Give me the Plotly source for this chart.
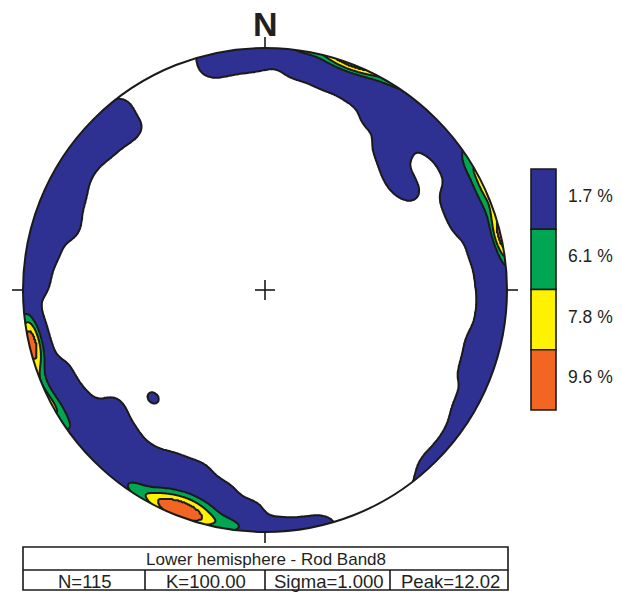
import numpy as np
import plotly.graph_objects as go

# ---------------- data (lineation orientations read from the net) ----------------
TREND = [0, 8, 8, 16, 16, 24, 24, 32, 32, 32,
         40, 40, 48, 48, 56, 56, 64, 64, 72, 71,
         44, 40, 46, 51, 55,
         80, 88, 88, 96, 96, 104, 104, 112, 112,
         120, 120, 128, 136, 168, 176, 184, 184,
         192, 192, 200, 200, 200, 208, 208, 208,
         216, 216, 216, 224, 224, 224, 232, 232, 232, 232,
         240, 240, 248,
         272, 272, 280, 280, 288, 288, 288, 296, 296, 296,
         304, 304, 312, 312, 312, 320, 320, 320, 348, 348, 356, 356,
         226,
         188, 190, 194, 198, 202, 206, 210, 214, 196, 203,
         20,
         252, 255, 258, 261, 264, 254, 260,
         77, 60, 64, 68,
         236, 243]
PLUNGE = [3, 3, 10, 3, 12, 3, 13, 3, 11, 19,
          3, 11, 3, 11, 3, 10, 10, 17, 10, 17,
          20, 25, 28, 30, 28,
          13, 3, 11, 3, 10, 3, 13, 3, 12,
          3, 6.5, 3, 3, 2, 3, 3, 11,
          10, 17, 9, 15, 22, 9, 15, 21,
          3, 10, 18, 3, 11, 20, 3, 10, 16, 23,
          3, 13, 12,
          3, 9, 3, 12, 3, 10, 18, 3, 9, 15,
          3, 12, 3, 8, 14, 3, 9, 16, 3, 8, 3, 7,
          36,
          2.5, 2.5, 2.5, 2.5, 2.5, 2.5, 2.5, 2.5, 8, 8,
          1,
          1, 1, 1, 1, 1, 5, 5,
          1, 2, 1.5, 1.5,
          2, 2]
COUNT = ([1] * 86
         + [1, 1, 1, 2, 2, 2, 1, 1, 1, 1]
         + [1]
         + [1, 1, 1, 1, 1, 1, 1]
         + [2, 1, 1, 2]
         + [1, 1])
assert len(TREND) == len(PLUNGE) == len(COUNT)

LEVELS = [1.7, 6.1, 7.8, 9.6]
LEVEL_COLORS = ["#2E3192", "#00A651", "#FFF200", "#F26522"]
TITLE = "Lower hemisphere - Rod Band8"
STATS = ["N=115", "K=100.00", "Sigma=1.000", "Peak=12.02"]
KAPPA = 220.0

# ---------------- geometry helpers ----------------
W, H = 622, 592
CX, CY, RAD = 265.0, 290.0, 242.0
TXT = "#231F20"


def dx(px):
    return (px - CX) / RAD


def dy(py):
    return (CY - py) / RAD


# ---------------- density on an equal-area (Schmidt) lower-hemisphere grid ----------------
t = np.radians(TREND)
p = np.radians(PLUNGE)
w = np.asarray(COUNT, float)
ux, uy, uz = np.cos(p) * np.sin(t), np.cos(p) * np.cos(t), np.sin(p)

n = 481
g = np.linspace(-1.08, 1.08, n)
X, Y = np.meshgrid(g, g)
Rr = np.hypot(X, Y)
th = 2 * np.arcsin(np.clip(Rr / np.sqrt(2), 0, 1))
az = np.arctan2(X, Y)
vx, vy, vz = np.sin(th) * np.sin(az), np.sin(th) * np.cos(az), np.cos(th)
D = np.zeros_like(X)
for i in range(len(w)):
    c = np.abs(vx * ux[i] + vy * uy[i] + vz * uz[i])
    D += w[i] * np.exp(KAPPA * (c - 1))
D *= KAPPA / w.sum()          # percent per 1 % area

Z = np.interp(D, [0] + LEVELS + [1000], list(range(len(LEVELS) + 2)))

fig = go.Figure()
fig.add_trace(go.Contour(
    x=g, y=g, z=Z, zmin=0, zmax=5, autocontour=False,
    contours=dict(start=1, end=len(LEVELS), size=1, coloring="fill", showlines=True),
    line=dict(color="#1a1a1a", width=2, smoothing=0.8),
    colorscale=[[0, "white"], [0.25, LEVEL_COLORS[0]], [0.5, LEVEL_COLORS[1]],
                [0.75, LEVEL_COLORS[2]], [1, LEVEL_COLORS[3]]],
    showscale=False, hoverinfo="skip"))

shapes = []
# white mask outside the primitive circle
ang = np.linspace(0, 2 * np.pi, 721)
circ = " ".join(f"L{np.cos(a):.5f},{np.sin(a):.5f}" for a in ang[1:])
shapes.append(dict(type="path", path=f"M-3,-3 L3,-3 L3,3 L-3,3 Z M1,0 {circ} Z",
                   fillcolor="white", fillrule="evenodd", line=dict(width=0),
                   xref="x", yref="y", layer="above"))
blk = dict(color="#1a1a1a", width=1.6)
shapes.append(dict(type="circle", x0=-1, y0=-1, x1=1, y1=1, line=dict(color="#1a1a1a", width=2),
                   xref="x", yref="y"))
tk = 11 / RAD
for (x0, y0, x1, y1) in [(-1 - tk, 0, -1, 0), (1, 0, 1 + tk, 0), (0, 1, 0, 1 + tk), (0, -1, 0, -1 - tk),
                         (-10 / RAD, 0, 10 / RAD, 0), (0, -10 / RAD, 0, 10 / RAD)]:
    shapes.append(dict(type="line", x0=x0, y0=y0, x1=x1, y1=y1, line=blk, xref="x", yref="y"))

annotations = [dict(x=0, y=dy(24), text="<b>N</b>", showarrow=False, xref="x", yref="y",
                    font=dict(family="Liberation Sans, Arial", size=34, color=TXT))]

# legend boxes
lx0, lx1, ly0, step = 531, 556, 169, 60.25
for k, (lv, col) in enumerate(zip(LEVELS, LEVEL_COLORS)):
    y0p, y1p = ly0 + k * step, ly0 + (k + 1) * step
    shapes.append(dict(type="rect", x0=dx(lx0), x1=dx(lx1), y0=dy(y0p), y1=dy(y1p),
                       fillcolor=col, line=dict(color="#1a1a1a", width=1.6), xref="x", yref="y"))
    annotations.append(dict(x=dx(566), y=dy((y0p + y1p) / 2 - 3), text=f"{lv} %", showarrow=False,
                            xanchor="left", xref="x", yref="y",
                            font=dict(family="Liberation Sans, Arial", size=17.5, color=TXT)))

# info table
tx0, tx1, ty0, tym, ty1 = 23, 508, 547, 570, 590
shapes.append(dict(type="rect", x0=dx(tx0), x1=dx(tx1), y0=dy(ty0), y1=dy(ty1),
                   line=dict(color="#1a1a1a", width=1.6), xref="x", yref="y"))
shapes.append(dict(type="line", x0=dx(tx0), x1=dx(tx1), y0=dy(tym), y1=dy(tym), line=blk, xref="x", yref="y"))
cols = [23, 145, 265, 390, 508]
for cx in cols[1:-1]:
    shapes.append(dict(type="line", x0=dx(cx), x1=dx(cx), y0=dy(tym), y1=dy(ty1), line=blk, xref="x", yref="y"))
annotations.append(dict(x=dx((tx0 + tx1) / 2), y=dy((ty0 + tym) / 2 + 0.5), text=TITLE, showarrow=False,
                        xref="x", yref="y", font=dict(family="Liberation Sans, Arial", size=17, color=TXT)))
for k, s in enumerate(STATS):
    annotations.append(dict(x=dx((cols[k] + cols[k + 1]) / 2 + 1), y=dy((tym + ty1) / 2 + 1), text=s,
                            showarrow=False, xref="x", yref="y",
                            font=dict(family="Liberation Sans, Arial", size=18.5, color=TXT)))

fig.update_layout(
    width=W, height=H, margin=dict(l=0, r=0, t=0, b=0),
    paper_bgcolor="white", plot_bgcolor="white", showlegend=False,
    xaxis=dict(range=[dx(0), dx(W)], visible=False, fixedrange=True),
    yaxis=dict(range=[dy(H), dy(0)], visible=False, fixedrange=True),
    shapes=shapes, annotations=annotations)

fig.write_html("out.html", config={"displayModeBar": False, "staticPlot": True},
               post_script="document.body.style.margin='0';document.body.style.padding='0';"
                           "document.body.style.overflow='hidden';")
